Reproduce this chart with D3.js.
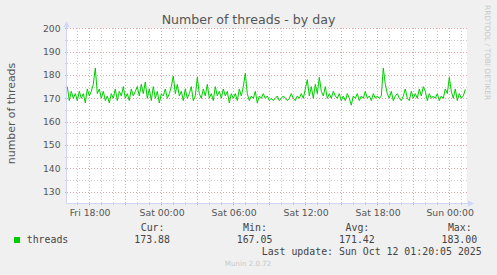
<!DOCTYPE html>
<html>
<head>
<meta charset="utf-8">
<script src="https://cdn.jsdelivr.net/npm/d3@7"></script>
<style>
  body { margin: 0; background: #f0f0f0; }
  svg { display: block; }
</style>
</head>
<body>
<div id="chart"></div>
<script>
// chart values
const title = "Number of threads - by day";
const yLabel = "number of threads";
const yTicks = [130, 140, 150, 160, 170, 180, 190, 200];
const xTickTimes = [
  new Date(2025, 9, 10, 18), new Date(2025, 9, 11, 0), new Date(2025, 9, 11, 6),
  new Date(2025, 9, 11, 12), new Date(2025, 9, 11, 18), new Date(2025, 9, 12, 0)
];
const xTickLabels = ["Fri 18:00", "Sat 00:00", "Sat 06:00", "Sat 12:00", "Sat 18:00", "Sun 00:00"];
const firstSample = new Date(2025, 9, 10, 16, 10); // one sample every 10 minutes
const threads = [
  175, 169, 173, 170, 172, 169,  173, 170, 172, 168, 174, 171,
  173, 176, 183, 172, 174, 170,  173, 169, 171, 168, 172, 170,
  174, 169, 173, 171, 175, 170,  172, 169, 174, 171, 173, 175,
  171, 176, 172, 177, 170, 174,  169, 175, 170, 173, 168, 172,
  171, 174, 170, 172, 175, 179.6, 172, 176, 171, 173, 169, 174,
  170, 172, 175, 169, 171, 179,  172, 170, 174, 171, 176, 170,
  172, 169, 175, 171, 173, 170,  174, 171, 173, 168, 172, 170,
  172, 169, 174, 171, 175, 180.7, 172, 169, 171, 170, 173, 168,
  171, 170, 172, 170, 171, 169,  170, 169, 170, 171, 169, 170,
  171, 170, 169, 170, 172, 170,  169, 171, 170, 172, 170, 174,
  178, 171, 175, 170, 176, 172,  179, 173, 171, 175, 170, 172,
  170, 173, 171, 170, 172, 169,  171, 169, 172, 170, 167.05, 171,
  170, 172, 169, 171, 170, 173,  170, 171, 169, 172, 170, 171,
  170, 171, 183, 176, 172, 170,  173, 169, 171, 172, 170, 169,
  171, 174, 170, 169, 173, 170,  172, 170, 174, 171, 175, 173,
  169, 172, 170, 171, 170, 172,  169, 171, 170, 174, 172, 179,
  173, 170, 174, 169, 172, 170,  171, 173.88
];
const seriesName = "threads";
const statNames = ["Cur:", "Min:", "Avg:", "Max:"];
const statValues = ["173.88", "167.05", "171.42", "183.00"];
const lastUpdate = "Last update: Sun Oct 12 01:20:05 2025";

const W = 497, H = 275;
const plot = { left: 67, right: 467, top: 28.3, bottom: 203.3 };
const sans = "DejaVu Sans, sans-serif";
const mono = "DejaVu Sans Mono, monospace";

const svg = d3.select("#chart").append("svg")
  .attr("width", W)
  .attr("height", H);

svg.append("rect").attr("width", W).attr("height", H).attr("fill", "#f0f0f0");

const x = d3.scaleTime()
  .domain([new Date(2025, 9, 10, 16, 8, 30), new Date(2025, 9, 12, 1, 28, 30)])
  .range([plot.left, plot.right]);
const y = d3.scaleLinear()
  .domain([125, 200])
  .range([plot.bottom, plot.top]);

const px = v => Math.round(v) + 0.5;

svg.append("rect")
  .attr("x", plot.left).attr("y", plot.top)
  .attr("width", plot.right - plot.left).attr("height", plot.bottom - plot.top)
  .attr("fill", "#ffffff");

// grid: minor every hour / 5 threads, major every 3 hours / 10 threads
const grid = svg.append("g").attr("stroke-dasharray", "1,2").attr("fill", "none");
const hours = x.ticks(d3.timeHour.every(1));
const isMajorHour = d => d.getHours() % 3 === 0;
const yMinor = d3.range(130, 201, 5);

grid.selectAll("line.vx").data(hours).join("line")
  .attr("x1", d => px(x(d))).attr("x2", d => px(x(d)))
  .attr("y1", plot.top - 0.3).attr("y2", plot.bottom)
  .attr("stroke", d => isMajorHour(d) ? "#e3a6a6" : "#cfcfcf");

grid.selectAll("line.hy").data(yMinor).join("line")
  .attr("x1", plot.left).attr("x2", plot.right)
  .attr("y1", d => px(y(d))).attr("y2", d => px(y(d)))
  .attr("stroke", d => d % 10 === 0 ? "#e3a6a6" : "#cfcfcf");

// tick marks crossing the axes
svg.append("g").selectAll("line").data(hours).join("line")
  .attr("x1", d => px(x(d))).attr("x2", d => px(x(d)))
  .attr("y1", plot.bottom - 1).attr("y2", plot.bottom + 2)
  .attr("stroke", d => isMajorHour(d) ? "#e3a6a6" : "#cfcfcf");
svg.append("g").selectAll("line").data(yMinor).join("line")
  .attr("x1", plot.left - 2).attr("x2", plot.left + 1)
  .attr("y1", d => px(y(d))).attr("y2", d => px(y(d)))
  .attr("stroke", d => d % 10 === 0 ? "#e3a6a6" : "#cfcfcf");

// the series
const line = d3.line()
  .x((d, i) => x(d3.timeMinute.offset(firstSample, i * 10)))
  .y(d => y(d));

svg.append("path")
  .datum(threads)
  .attr("d", line)
  .attr("fill", "none")
  .attr("stroke", "#00cc00")
  .attr("stroke-width", 1);

// axes with arrows
const axisColor = "#cfd6f8";
svg.append("line")
  .attr("x1", plot.left - 0.5).attr("x2", plot.left - 0.5)
  .attr("y1", plot.bottom + 0.5).attr("y2", plot.top - 4)
  .attr("stroke", axisColor);
svg.append("line")
  .attr("x1", plot.left - 0.5).attr("x2", plot.right + 3)
  .attr("y1", px(plot.bottom)).attr("y2", px(plot.bottom))
  .attr("stroke", axisColor);
svg.append("path")
  .attr("d", `M${plot.left - 3.5},${plot.top - 1} L${plot.left - 0.5},${plot.top - 7} L${plot.left + 2.5},${plot.top - 1} Z`)
  .attr("fill", axisColor);
svg.append("path")
  .attr("d", `M${plot.right + 1},${px(plot.bottom) - 3} L${plot.right + 7},${px(plot.bottom)} L${plot.right + 1},${px(plot.bottom) + 3} Z`)
  .attr("fill", axisColor);

// axis labels
svg.append("g").selectAll("text").data(yTicks).join("text")
  .attr("x", 60.5)
  .attr("y", d => y(d) + 3.3)
  .attr("text-anchor", "end")
  .attr("font-family", sans).attr("font-size", 9.2)
  .attr("fill", "#555")
  .text(d => d);

svg.append("g").selectAll("text").data(xTickTimes).join("text")
  .attr("x", d => x(d) + 0.8)
  .attr("y", 216)
  .attr("text-anchor", "middle")
  .attr("font-family", sans).attr("font-size", 9.3)
  .attr("fill", "#555")
  .text((d, i) => xTickLabels[i]);

svg.append("text")
  .attr("x", 248.5).attr("y", 23.5)
  .attr("text-anchor", "middle")
  .attr("font-family", sans).attr("font-size", 12.6)
  .attr("fill", "#555")
  .text(title);

svg.append("text")
  .attr("transform", "translate(15.3,113.5) rotate(-90)")
  .attr("text-anchor", "middle")
  .attr("font-family", sans).attr("font-size", 10.9)
  .attr("fill", "#555")
  .text(yLabel);

svg.append("text")
  .attr("transform", "translate(485,5) rotate(90)")
  .attr("font-family", sans).attr("font-size", 7.4)
  .attr("fill", "#c8c8c8")
  .text("RRDTOOL / TOBI OETIKER");

// legend
svg.append("rect")
  .attr("x", 14).attr("y", 237).attr("width", 6).attr("height", 6)
  .attr("fill", "#00cc00");
svg.append("text")
  .attr("x", 26.7).attr("y", 242.7)
  .attr("font-family", mono).attr("font-size", 9.9)
  .attr("fill", "#444")
  .text(seriesName);

const stats = svg.append("g").attr("font-family", mono).attr("font-size", 9.9).attr("fill", "#444");
stats.selectAll("text.name").data(statNames).join("text")
  .attr("x", (d, i) => 140.7 + i * 102.4)
  .attr("y", 230.5)
  .text(d => d);
stats.selectAll("text.val").data(statValues).join("text")
  .attr("x", (d, i) => 134.3 + i * 102.4)
  .attr("y", 242.7)
  .text(d => d);
stats.append("text")
  .attr("x", 261.7).attr("y", 254.5)
  .text(lastUpdate);

svg.append("text")
  .attr("x", 248).attr("y", 266)
  .attr("text-anchor", "middle")
  .attr("font-family", sans).attr("font-size", 7.1)
  .attr("fill", "#c8c8c8")
  .text("Munin 2.0.72");
</script>
</body>
</html>
